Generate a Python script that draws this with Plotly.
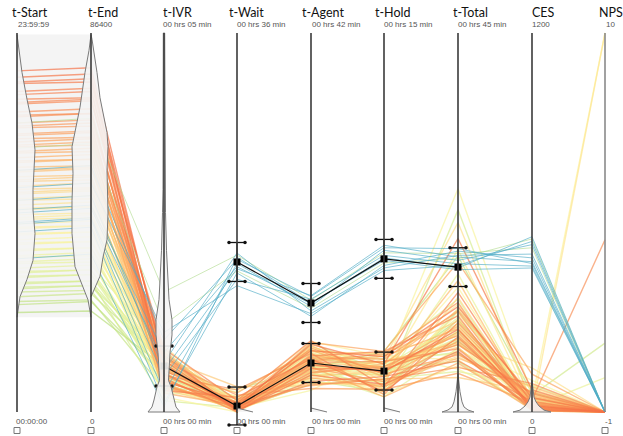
import plotly.graph_objects as go

# ---------------- data ----------------
DIMENSIONS = ["t-Start", "t-End", "t-IVR", "t-Wait", "t-Agent", "t-Hold", "t-Total", "CES", "NPS"]
TOP_LABELS = ["23:59:59", "86400", "00 hrs 05 min", "00 hrs 36 min", "00 hrs 42 min",
              "00 hrs 15 min", "00 hrs 45 min", "1200", "10"]
BOTTOM_LABELS = ["00:00:00", "0", "00 hrs 00 min", "00 hrs 00 min", "00 hrs 00 min",
                 "00 hrs 00 min", "00 hrs 00 min", "0", "-1"]
# units: hours, hours, seconds, minutes, minutes, minutes, minutes, score, score
RANGE_MIN = [0, 0, 0, 0, 0, 0, 0, 0, -1]
RANGE_MAX = [24, 24, 300, 36, 42, 15, 45, 1200, 10]

# main (warm) group
T_START = [21.6, 21.2, 20.9, 20.8, 20.3, 20.1, 19.8, 19.6, 19.5, 19.0,
           18.8, 18.7, 18.3, 18.1, 18.0, 17.6, 17.5, 17.3, 17.1, 16.9,
           16.8, 16.5, 16.4, 16.1, 15.9, 15.8, 15.5, 15.3, 15.2, 14.9,
           14.7, 14.6, 14.3, 14.1, 13.9, 13.8, 13.5, 13.4, 13.1, 12.9,
           12.8, 12.5, 12.3, 12.2, 11.9, 11.7, 11.6, 11.3, 11.2, 10.9,
           10.7, 10.6, 10.3, 10.2, 9.9, 9.8, 9.5, 9.4, 9.1, 8.9,
           8.8, 8.6, 8.5, 8.2, 8.1, 7.9, 7.8, 7.6, 7.3, 7.0,
           6.8, 6.3]
T_END = [21.8, 21.4, 21.1, 20.9, 20.5, 20.3, 19.9, 19.8, 19.7, 19.2,
         18.9, 18.9, 18.5, 18.3, 18.1, 17.8, 17.7, 17.4, 17.3, 17.1,
         16.9, 16.7, 16.5, 16.3, 16.0, 16.0, 15.6, 15.5, 15.4, 15.0,
         14.9, 14.7, 14.5, 14.2, 14.1, 14.0, 13.7, 13.5, 13.3, 13.0,
         13.0, 12.6, 12.5, 12.3, 12.1, 11.8, 11.8, 11.4, 11.4, 11.1,
         10.8, 10.8, 10.4, 10.4, 10.1, 9.9, 9.7, 9.5, 9.3, 9.0,
         9.0, 8.7, 8.7, 8.3, 8.3, 8.0, 8.0, 7.7, 7.5, 7.1,
         7.0, 6.4]
T_IVR = [38, 24, 41, 30, 17, 45, 33, 27, 50, 21,
         36, 29, 43, 19, 31, 40, 25, 47, 34, 22,
         28, 39, 15, 44, 32, 26, 37, 20, 48, 35,
         23, 42, 30, 18, 46, 27, 33, 40, 21, 29,
         52, 36, 24, 31, 43, 19, 38, 26, 34, 12,
         45, 28, 22, 41, 30, 37, 16, 25, 49, 33,
         20, 39, 27, 35, 9, 44, 31, 23, 40, 18,
         29, 36]
T_WAIT = [0.3, 0.9, 0.1, 0.5, 1.4, 0.2, 0.7, 0.0, 1.1, 0.4,
          0.6, 2.1, 0.2, 0.8, 0.3, 1.6, 0.5, 0.1, 0.9, 0.4,
          1.2, 0.0, 0.6, 0.3, 1.8, 0.5, 0.2, 1.0, 0.4, 0.7,
          0.1, 2.4, 0.5, 0.3, 0.8, 0.0, 1.3, 0.6, 0.2, 0.9,
          0.4, 0.1, 1.5, 0.7, 0.3, 0.5, 1.1, 0.2, 0.6, 0.0,
          0.8, 1.9, 0.4, 0.3, 0.7, 0.1, 1.0, 0.5, 0.2, 1.4,
          0.6, 0.3, 0.9, 0.0, 0.4, 1.2, 0.7, 0.2, 0.5, 2.2,
          0.3, 0.8]
T_AGENT = [5.2, 6.8, 4.1, 7.5, 5.9, 3.4, 6.2, 4.8, 7.9, 5.5,
           3.0, 6.5, 4.4, 5.7, 7.1, 2.6, 6.0, 4.9, 5.3, 7.7,
           3.8, 6.4, 5.0, 4.3, 6.9, 5.6, 3.2, 7.3, 4.6, 6.1,
           5.4, 2.9, 6.7, 4.0, 5.8, 7.4, 3.6, 6.3, 5.1, 4.5,
           7.0, 5.9, 3.3, 6.6, 4.7, 5.2, 7.8, 4.2, 6.0, 3.9,
           5.5, 6.8, 2.4, 5.7, 4.9, 7.2, 3.7, 6.2, 5.0, 4.4,
           6.5, 3.1, 5.8, 7.6, 4.6, 5.3, 6.9, 3.5, 6.1, 4.8,
           5.4, 4.1]
T_HOLD = [1.6, 2.2, 1.1, 1.9, 0.8, 1.4, 2.4, 1.7, 1.0, 2.0,
          1.3, 0.7, 1.8, 2.3, 1.5, 0.9, 2.1, 1.2, 1.6, 2.4,
          1.0, 1.7, 0.6, 1.9, 1.4, 2.2, 1.1, 1.5, 2.0, 0.8,
          1.8, 1.3, 2.3, 1.6, 0.9, 1.2, 2.1, 1.7, 1.4, 0.7,
          1.9, 2.4, 1.0, 1.5, 1.8, 1.3, 2.2, 0.8, 1.6, 2.0,
          1.1, 1.7, 2.3, 1.4, 0.9, 1.9, 1.2, 2.1, 1.5, 0.6,
          1.8, 1.3, 2.2, 1.6, 1.0, 2.0, 1.4, 0.8, 1.7, 2.4,
          1.1, 1.5]
T_TOTAL = [9.8, 12.5, 7.2, 20.6, 8.9, 6.1, 11.4, 8.0, 14.2, 7.5,
           5.3, 10.6, 9.1, 13.0, 6.8, 4.6, 11.9, 8.4, 9.5, 17.8,
           7.0, 10.2, 5.8, 12.1, 8.7, 9.9, 6.4, 15.6, 8.2, 11.0,
           7.7, 4.1, 10.8, 9.3, 13.6, 6.6, 22.5, 8.6, 10.4, 5.5,
           12.8, 9.0, 7.4, 19.3, 8.1, 11.6, 6.2, 9.7, 14.8, 7.9,
           10.1, 26.5, 5.1, 9.4, 12.3, 8.3, 16.4, 6.9, 11.2, 7.6,
           10.5, 4.8, 13.4, 8.8, 24.0, 7.1, 9.6, 12.0, 6.0, 18.5,
           8.5, 10.9]
CES = [20, 45, 8, 70, 15, 33, 5, 58, 25, 12,
       90, 38, 18, 4, 62, 28, 10, 47, 22, 120,
       14, 35, 7, 52, 30, 17, 80, 9, 41, 24,
       3, 66, 19, 36, 11, 55, 27, 140, 13, 43,
       6, 31, 74, 21, 16, 49, 8, 37, 26, 100,
       12, 57, 23, 4, 39, 29, 15, 64, 10, 34,
       18, 85, 7, 46, 25, 13, 53, 32, 9, 60,
       20, 42]
NPS = [-1, -1, -1, -1, -1, -1, -1, -1, -1, -1,
       -1, 4, -1, -1, -1, -1, -1, -1, -1, -1,
       -1, -1, -1, -1, -1, -1, -1, -1, -1, -1,
       -1, -1, -1, -1, -1, -1, -1, -1, -1, -1,
       10, -1, -1, -1, -1, -1, -1, 10, -1, -1,
       -1, -1, -1, -1, -1, -1, 0, -1, -1, -1,
       -1, -1, -1, -1, -1, -1, 1, -1, -1, -1,
       -1, -1]

# secondary (cool) group
C_KIND = ["pale", "pale", "teal", "teal", "teal", "teal", "teal", "teal", "teal", "teal", "teal"]
C_START = [18.3, 16.7, 15.3, 12.8, 12.6, 12.0, 11.9, 11.4, 9.7, 14.2, 13.4]
C_END = [18.6, 17.0, 15.6, 13.1, 12.9, 12.3, 12.2, 11.7, 10.0, 14.5, 13.7]
C_IVR = [95, 69, 57, 47, 39, 28, 15, 7, 4, 63, 33]
C_WAIT = [14.9, 13.4, 14.5, 13.8, 15.1, 12.6, 14.1, 13.2, 14.7, 12.0, 13.6]
C_AGENT = [12.4, 11.5, 12.8, 12.0, 11.2, 12.5, 11.7, 10.6, 12.1, 10.9, 12.9]
C_HOLD = [6.3, 5.9, 6.5, 6.1, 5.7, 6.2, 6.4, 5.8, 6.0, 5.6, 6.6]
C_TOTAL = [18.8, 18.2, 19.4, 17.1, 18.6, 17.6, 18.0, 19.1, 16.9, 17.4, 18.4]
C_CES = [520, 548, 470, 555, 500, 462, 530, 488, 456, 540, 476]
C_NPS = [-1, -1, -1, -1, -1, -1, -1, -1, -1, -1, -1]

# group means / standard deviations
LOW_DIMS = ["t-IVR", "t-Wait", "t-Agent", "t-Hold"]
LOW_MEAN = [36.4, 0.57, 5.43, 1.62]
LOW_SD = [15.8, 1.8, 2.16, 0.75]
HIGH_DIMS = ["t-Wait", "t-Agent", "t-Hold", "t-Total"]
HIGH_MEAN = [14.25, 12.08, 6.06, 17.2]
HIGH_SD = [1.85, 2.16, 0.77, 2.3]

# density profiles: (value, relative width)
DENS_START = [(23.9, 0), (22.9, 2), (21.5, 5), (19.8, 10), (18.3, 15), (16.6, 18), (14.1, 16),
              (12.8, 16), (11.3, 18), (9.6, 16), (8.4, 10), (7.3, 3), (6.0, 0)]
DENS_END_L = [(23.9, 0), (22.9, 2), (21.5, 6), (19.3, 11), (16.8, 19), (15.1, 18), (13.4, 19),
              (11.3, 19), (9.2, 16), (8.4, 11), (7.1, 3), (6.0, 0)]
DENS_END_R = [(23.9, 0), (23.6, 1), (21.5, 6), (19.9, 9), (17.7, 16), (16.8, 17), (15.3, 16),
              (12.6, 17), (10.9, 16), (9.8, 12), (8.6, 9), (7.9, 4), (7.3, 0)]
DENS_IVR = [(300, 0.7), (176, 1), (158, 1.5), (128, 2.5), (104, 4), (89, 5), (73, 8), (61, 8),
            (47, 6), (33, 5), (25, 4.5), (20, 7), (9.5, 10), (4, 12), (0, 16)]
DENS_TOTAL = [(4.5, 0), (3.8, 0.6), (2.4, 2), (1.2, 4), (0.6, 6), (0.24, 10), (0, 16)]
DENS_CES = [(100, 0), (85, 0.6), (47, 2), (32, 4), (19, 7), (6, 12), (0, 19)]
DENS_SMALL = {"t-Wait": 0.38, "t-Agent": 0.44, "t-Hold": 0.16}

# ---------------- layout constants ----------------
AX_X = [17, 91, 164, 237, 311, 384, 458, 532, 605]
TITLE_X = [10, 86, 161, 227, 300, 373, 451, 530, 597]
SUB_X = [16, 88, 161, 235, 310, 382, 456, 530, 604]
BOT_X = [14, 88, 161, 235, 310, 382, 456, 528, 603]
PX_TOP, PX_BOT = 33.0, 412.0
SPAN = PX_BOT - PX_TOP


def ny(px):
    return (PX_BOT - px) / SPAN


def nrm(v, i):
    return (v - RANGE_MIN[i]) / (RANGE_MAX[i] - RANGE_MIN[i])


DIDX = {d: i for i, d in enumerate(DIMENSIONS)}

WARM_STOPS = [(6.0, (178, 219, 118)), (8.5, (220, 239, 148)), (11.0, (252, 244, 158)),
              (13.5, (254, 222, 137)), (16.0, (253, 174, 97)), (19.0, (248, 138, 82)),
              (22.0, (243, 106, 66))]


def warm_color(h, a):
    if h <= WARM_STOPS[0][0]:
        c = WARM_STOPS[0][1]
    elif h >= WARM_STOPS[-1][0]:
        c = WARM_STOPS[-1][1]
    else:
        for (h0, c0), (h1, c1) in zip(WARM_STOPS[:-1], WARM_STOPS[1:]):
            if h0 <= h <= h1:
                t = (h - h0) / (h1 - h0)
                c = tuple(round(c0[j] + t * (c1[j] - c0[j])) for j in range(3))
                break
    return "rgba(%d,%d,%d,%.2f)" % (c[0], c[1], c[2], a)


fig = go.Figure()

# light background panel between first two axes
fig.add_shape(type="rect", x0=AX_X[0], x1=AX_X[1], y0=nrm(6.0, 0), y1=nrm(23.9, 0),
              fillcolor="#f4f4f4", line_width=0, layer="below")

# ---------------- polylines ----------------
order = sorted(range(len(T_START)), key=lambda k: T_START[k])
for k in order:
    vals = [T_START[k], T_END[k], T_IVR[k], T_WAIT[k], T_AGENT[k], T_HOLD[k], T_TOTAL[k], CES[k], NPS[k]]
    fig.add_trace(go.Scatter(x=AX_X, y=[nrm(v, i) for i, v in enumerate(vals)], mode="lines",
                             line=dict(color=warm_color(T_START[k], 0.68), width=1.4),
                             hoverinfo="skip", showlegend=False))

for k in range(len(C_START)):
    vals = [C_START[k], C_END[k], C_IVR[k], C_WAIT[k], C_AGENT[k], C_HOLD[k], C_TOTAL[k], C_CES[k], C_NPS[k]]
    col = "rgba(80,172,198,0.65)" if C_KIND[k] == "teal" else "rgba(175,218,140,0.6)"
    fig.add_trace(go.Scatter(x=AX_X, y=[nrm(v, i) for i, v in enumerate(vals)], mode="lines",
                             line=dict(color=col, width=1), hoverinfo="skip", showlegend=False))

# ---------------- means and error bars ----------------
CAP = 8
for dims, means, sds in [(LOW_DIMS, LOW_MEAN, LOW_SD), (HIGH_DIMS, HIGH_MEAN, HIGH_SD)]:
    xs = [AX_X[DIDX[d]] for d in dims]
    ys = [nrm(m, DIDX[d]) for d, m in zip(dims, means)]
    fig.add_trace(go.Scatter(x=xs, y=ys, mode="lines", line=dict(color="#111", width=1.2),
                             hoverinfo="skip", showlegend=False))
    for d, m, s in zip(dims, means, sds):
        i = DIDX[d]
        ax = AX_X[i]
        top, bot = nrm(m + s, i), nrm(m - s, i)
        fig.add_trace(go.Scatter(x=[ax - CAP, ax + CAP, None, ax - CAP, ax + CAP, None, ax, ax],
                                 y=[top, top, None, bot, bot, None, top, bot], mode="lines",
                                 line=dict(color="#111", width=1.3), hoverinfo="skip", showlegend=False))
        fig.add_trace(go.Scatter(x=[ax - CAP, ax + CAP, ax - CAP, ax + CAP], y=[top, top, bot, bot],
                                 mode="markers", marker=dict(color="#111", size=3.5),
                                 hoverinfo="skip", showlegend=False))
    fig.add_trace(go.Scatter(x=xs, y=ys, mode="markers", marker=dict(color="#000", size=7, symbol="square"),
                             hoverinfo="skip", showlegend=False))

# ---------------- violins ----------------
VFILL = "rgba(244,244,244,0.9)"
VLINE = "#7a7a7a"


def violin(i, prof, side):
    ax = AX_X[i]
    ys = [nrm(v, i) for v, _ in prof]
    ws = [w for _, w in prof]
    if side == "both":
        xs = [ax + w for w in ws] + [ax - w for w in ws[::-1]] + [ax + ws[0]]
        yy = ys + ys[::-1] + [ys[0]]
        fig.add_trace(go.Scatter(x=xs, y=yy, mode="lines", fill="toself", fillcolor=VFILL,
                                 line=dict(color=VLINE, width=1), hoverinfo="skip", showlegend=False))
    else:
        sgn = 1 if side == "right" else -1
        xs = [ax + sgn * w for w in ws]
        fig.add_trace(go.Scatter(x=xs + [ax, ax], y=ys + [ys[-1], ys[0]], mode="lines", fill="toself",
                                 fillcolor=VFILL, line=dict(width=0), hoverinfo="skip", showlegend=False))
        fig.add_trace(go.Scatter(x=xs, y=ys, mode="lines", line=dict(color=VLINE, width=1),
                                 hoverinfo="skip", showlegend=False))


violin(0, DENS_START, "right")
violin(1, DENS_END_L, "left")
violin(1, DENS_END_R, "right")
violin(2, DENS_IVR, "both")
violin(6, DENS_TOTAL, "both")
violin(7, DENS_CES, "both")
for d, v0 in DENS_SMALL.items():
    violin(DIDX[d], [(v0, 0), (0, 16)], "right")

# ---------------- axes ----------------
for i, ax in enumerate(AX_X):
    col = "#8a8a8a" if DIMENSIONS[i] == "NPS" else "#3a3a3a"
    fig.add_trace(go.Scatter(x=[ax, ax], y=[0, 1], mode="lines", line=dict(color=col, width=1.6),
                             hoverinfo="skip", showlegend=False))

# check boxes
fig.add_trace(go.Scatter(x=AX_X, y=[ny(430.5)] * len(AX_X), mode="markers",
                         marker=dict(symbol="square-open", size=6, color="#777", line=dict(width=1)),
                         hoverinfo="skip", showlegend=False))

annotations = []
for i, name in enumerate(DIMENSIONS):
    annotations.append(dict(x=TITLE_X[i], y=ny(12), text=name, showarrow=False, xanchor="left",
                            yanchor="middle", font=dict(family="Lato, Open Sans, sans-serif", size=12.5, color="#111")))
    annotations.append(dict(x=SUB_X[i], y=ny(24.5), text=TOP_LABELS[i], showarrow=False, xanchor="left",
                            yanchor="middle", font=dict(family="Liberation Sans, Arial, sans-serif", size=8, color="#555")))
    annotations.append(dict(x=BOT_X[i], y=ny(421), text=BOTTOM_LABELS[i], showarrow=False, xanchor="left",
                            yanchor="middle", font=dict(family="Liberation Sans, Arial, sans-serif", size=8, color="#555")))

fig.update_layout(
    width=623, height=436,
    margin=dict(l=0, r=0, t=0, b=0),
    paper_bgcolor="white", plot_bgcolor="white",
    xaxis=dict(range=[0, 623], visible=False, fixedrange=True),
    yaxis=dict(range=[ny(436), ny(0)], visible=False, fixedrange=True),
    annotations=annotations,
    showlegend=False,
    hovermode=False,
)

fig.write_html("out.html", config={"displayModeBar": False, "staticPlot": True},
               post_script="document.body.style.margin='0';document.body.style.overflow='hidden';")
